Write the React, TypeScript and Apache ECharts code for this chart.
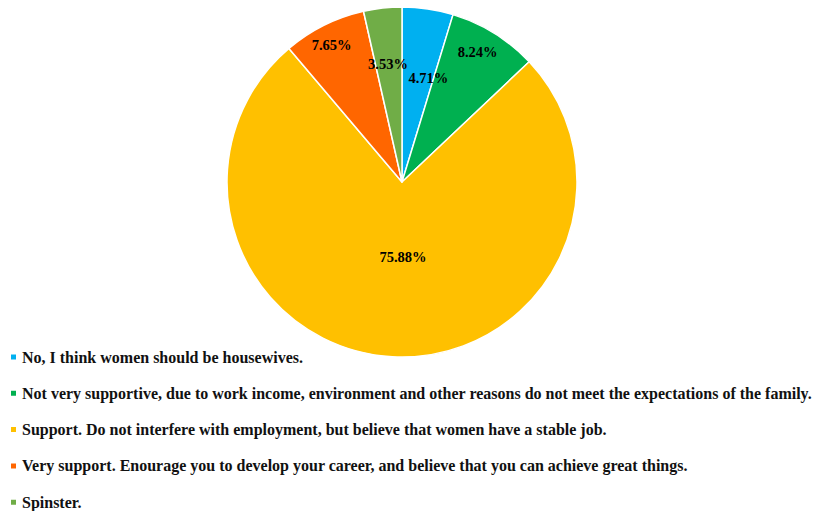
import React, { useEffect, useRef } from "react";
import * as echarts from "echarts";

const categories = [
  "No, I think women should be housewives.",
  "Not very supportive, due to work income, environment and other reasons do not meet the expectations of the family.",
  "Support. Do not interfere with employment, but believe that women have a stable job.",
  "Very support. Enourage you to develop your career, and believe that you can achieve great things.",
  "Spinster.",
];
const values = [4.71, 8.24, 75.88, 7.65, 3.53];
const colors = ["#00B0F0", "#00B050", "#FFC000", "#FF6600", "#70AD47"];
const labelOffsets: [number, number][] = [
  [13, -14],
  [28, -53],
  [6, -15],
  [-30, -56],
  [-4, -28],
];

const FONT = "'Liberation Serif', 'Times New Roman', serif";

export default function App() {
  const ref = useRef<HTMLDivElement>(null);
  useEffect(() => {
    document.body.style.margin = "0";
    if (!ref.current) return;
    const chart = echarts.init(ref.current, undefined, { renderer: "svg" });
    chart.setOption({
      animation: false,
      backgroundColor: "#ffffff",
      color: colors,
      legend: {
        orient: "vertical",
        left: 9,
        top: 349,
        padding: 0,
        icon: "rect",
        itemWidth: 7,
        itemHeight: 7,
        itemGap: 20.3,
        textStyle: {
          fontFamily: FONT,
          fontWeight: "bold",
          fontSize: 16,
          lineHeight: 16,
          color: "#111111",
        },
        data: categories,
      },
      series: [
        {
          type: "pie",
          center: [402, 182],
          radius: 175,
          startAngle: 90,
          clockwise: true,
          avoidLabelOverlap: false,
          itemStyle: { borderColor: "#ffffff", borderWidth: 1.5 },
          label: {
            show: true,
            position: "inside",
            formatter: (p: any) => p.value.toFixed(2) + "%",
            fontFamily: FONT,
            fontWeight: "bold",
            fontSize: 14.5,
            color: "#000000",
          },
          labelLine: { show: false },
          emphasis: { disabled: true },
          data: categories.map((name, i) => ({
            name,
            value: values[i],
            label: { offset: labelOffsets[i] },
          })),
        },
      ],
    });
    return () => chart.dispose();
  }, []);
  return <div ref={ref} style={{ width: 819, height: 511 }} />;
}
